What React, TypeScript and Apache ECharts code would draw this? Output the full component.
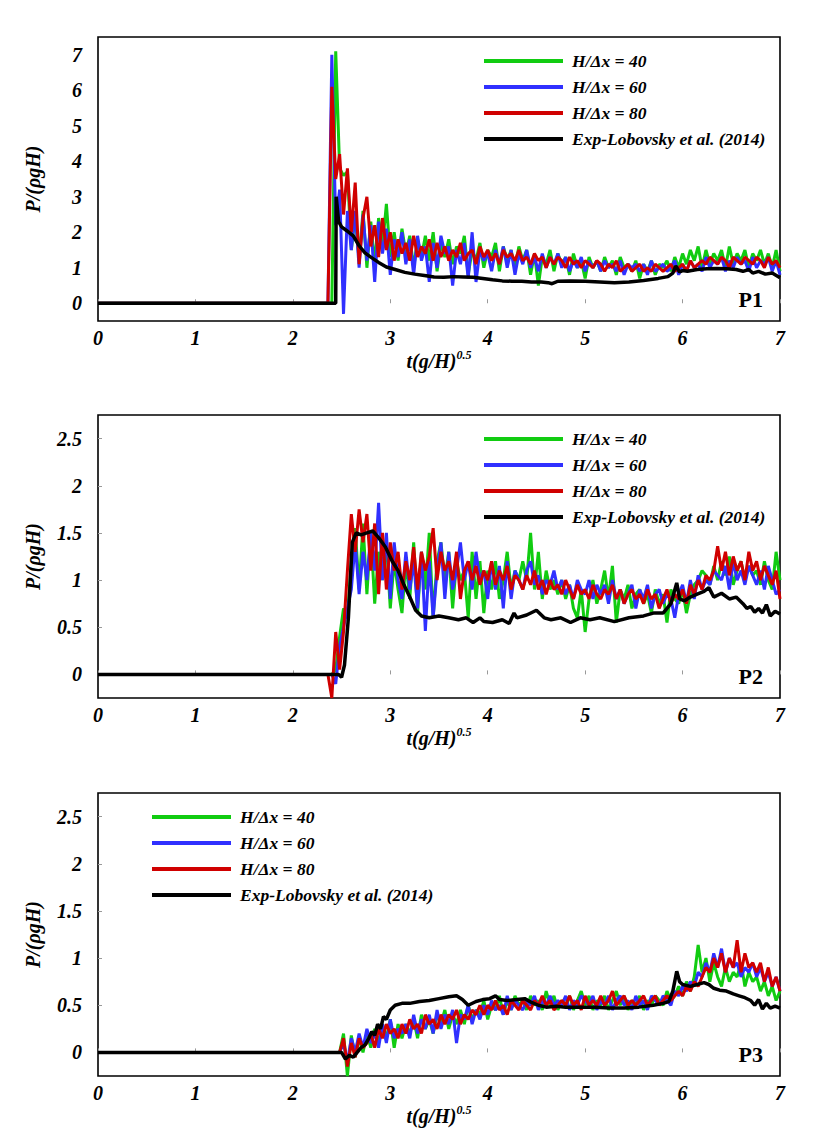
import React, { useEffect, useRef } from "react";
import * as echarts from "echarts";

// ---------- data ----------
const NAMES = ["H/Δx = 40", "H/Δx = 60", "H/Δx = 80", "Exp-Lobovsky et al. (2014)"];
const COLORS = ["#11cc11", "#3030ff", "#d00000", "#000000"];
const X_TICKS = [0, 1, 2, 3, 4, 5, 6, 7];
const Y_TICKS_P1 = [0, 1, 2, 3, 4, 5, 6, 7];
const Y_TICKS_P23 = [0, 0.5, 1, 1.5, 2, 2.5];
const PANEL_LABELS = ["P1", "P2", "P3"];

// simulation time samples
const T = [
  0,
  2.36, 2.40, 2.44, 2.48, 2.52, 2.56, 2.60, 2.64, 2.68, 2.72,
  2.76, 2.80, 2.84, 2.88, 2.92, 2.96, 3.00, 3.04, 3.08, 3.12,
  3.16, 3.20, 3.24, 3.28, 3.32, 3.36, 3.40, 3.44, 3.48, 3.52,
  3.56, 3.60, 3.64, 3.68, 3.72, 3.76, 3.80, 3.84, 3.88, 3.92,
  3.96, 4.00, 4.04, 4.08, 4.12, 4.16, 4.20, 4.24, 4.28, 4.32,
  4.36, 4.40, 4.44, 4.48, 4.52, 4.56, 4.60, 4.64, 4.68, 4.72,
  4.76, 4.80, 4.84, 4.88, 4.92, 4.96, 5.00, 5.04, 5.08, 5.12,
  5.16, 5.20, 5.24, 5.28, 5.32, 5.36, 5.40, 5.44, 5.48, 5.52,
  5.56, 5.60, 5.64, 5.68, 5.72, 5.76, 5.80, 5.84, 5.88, 5.92,
  5.96, 6.00, 6.04, 6.08, 6.12, 6.16, 6.20, 6.24, 6.28, 6.32,
  6.36, 6.40, 6.44, 6.48, 6.52, 6.56, 6.60, 6.64, 6.68, 6.72,
  6.76, 6.80, 6.84, 6.88, 6.92, 6.96, 7.00,
];

// ---- P1 ----
const P1_G40 = [
  0,
  0, 0, 7.1, 3.8, 3.6, 3.7, 1.5, 2.5, 1.2, 2.6,
  1.0, 2.3, 1.1, 2.4, 1.6, 2.8, 1.3, 2.0, 1.2, 2.1,
  1.4, 1.9, 1.0, 1.8, 1.3, 1.9, 1.2, 2.0, 0.9, 1.7,
  1.3, 1.8, 1.1, 1.6, 1.4, 1.9, 0.8, 1.5, 1.2, 1.7,
  1.0, 1.5, 1.3, 1.7, 0.9, 1.6, 1.2, 1.5, 1.0, 1.6,
  1.2, 1.5, 0.8, 1.4, 0.5, 1.3, 1.1, 1.5, 0.9, 1.4,
  1.1, 1.3, 0.8, 1.4, 1.0, 1.2, 0.7, 1.3, 1.0, 1.2,
  0.9, 1.3, 1.0, 1.2, 0.8, 1.3, 1.0, 1.1, 0.9, 1.2,
  0.7, 1.1, 0.9, 1.2, 0.8, 1.1, 1.0, 1.2, 0.9, 1.3,
  1.0, 1.4, 1.1, 1.5, 1.2, 1.6, 1.0, 1.5, 1.1, 1.4,
  1.2, 1.5, 1.0, 1.6, 1.1, 1.4, 1.2, 1.5, 1.0, 1.4,
  1.2, 1.5, 1.1, 1.4, 1.0, 1.5, 0.9,
];
const P1_B60 = [
  0,
  0, 7.0, 2.2, 3.2, -0.3, 2.6, 1.5, 2.6, 1.0, 2.5,
  1.2, 2.2, 0.6, 2.3, 1.4, 2.1, 0.8, 1.8, 1.3, 2.0,
  1.1, 1.8, 0.8, 1.9, 1.2, 1.6, 0.6, 1.7, 1.0, 1.9,
  1.4, 1.6, 0.5, 1.5, 1.1, 1.7, 0.7, 2.0, 0.6, 1.5,
  1.2, 1.4, 0.9, 1.5, 1.1, 1.6, 1.0, 1.5, 0.8, 1.4,
  1.1, 1.5, 1.0, 1.3, 0.9, 1.4, 1.0, 1.3, 1.1, 1.4,
  1.0, 1.3, 0.9, 1.2, 1.0, 1.3, 0.9, 1.2, 1.0, 1.2,
  0.9, 1.2, 1.0, 1.1, 0.9, 1.2, 0.8, 1.1, 1.0, 1.1,
  0.9, 1.1, 0.8, 1.2, 0.9, 1.0, 1.1, 0.9, 1.0, 1.2,
  0.8, 1.1, 0.9, 1.2, 1.0, 1.1, 0.9, 1.3, 1.0, 1.2,
  1.1, 1.3, 0.9, 1.2, 1.0, 1.3, 1.1, 1.2, 0.9, 1.3,
  1.0, 1.2, 1.1, 1.3, 0.9, 1.2, 0.8,
];
const P1_R80 = [
  0,
  0, 6.1, 3.5, 4.2, 2.5, 3.8, 2.0, 3.4, 1.1, 2.4,
  3.0, 1.6, 2.2, 1.3, 2.4, 1.5, 2.0, 1.2, 1.8, 1.4,
  1.7, 1.2, 1.9, 1.3, 1.6, 1.4, 1.8, 1.2, 1.7, 1.3,
  1.6, 1.2, 1.5, 1.3, 1.7, 1.2, 1.4, 1.5, 1.1, 1.6,
  1.3, 1.5, 1.2, 1.4, 1.1, 1.5, 1.3, 1.4, 1.2, 1.5,
  1.2, 1.3, 1.1, 1.4, 1.2, 1.3, 1.0, 1.3, 1.1, 1.3,
  1.2, 1.0, 1.3, 1.1, 1.2, 1.0, 1.2, 1.1, 1.0, 1.2,
  1.1, 0.9, 1.1, 1.0, 1.2, 0.9, 1.0, 1.1, 0.9, 1.0,
  1.1, 0.9, 1.0, 0.9, 1.1, 1.0, 0.9, 1.0, 1.1, 0.9,
  1.0, 1.1, 0.9, 1.2, 1.0, 1.1, 1.2, 1.1, 1.3, 1.2,
  1.1, 1.3, 1.2, 1.0, 1.3, 1.2, 1.1, 1.3, 1.2, 1.1,
  1.3, 1.2, 1.0, 1.3, 1.1, 1.2, 1.0,
];
const P1_EXP_T = [
  0, 2.44, 2.445, 2.47, 2.50, 2.55, 2.62, 2.68, 2.74, 2.80,
  2.88, 2.96, 3.05, 3.15, 3.25, 3.35, 3.45, 3.55, 3.65, 3.75,
  3.85, 3.95, 4.05, 4.15, 4.25, 4.35, 4.45, 4.55, 4.62, 4.66,
  4.72, 4.85, 5.00, 5.15, 5.30, 5.45, 5.60, 5.75, 5.85, 5.90,
  5.93, 5.97, 6.00, 6.05, 6.15, 6.25, 6.35, 6.45, 6.55, 6.62,
  6.68, 6.72, 6.78, 6.85, 6.92, 7.00,
];
const P1_EXP_V = [
  0, 0, 3.0, 2.3, 2.15, 2.05, 1.9, 1.62, 1.42, 1.3,
  1.15, 1.02, 0.95, 0.87, 0.82, 0.78, 0.74, 0.73, 0.75, 0.74,
  0.73, 0.7, 0.66, 0.63, 0.62, 0.62, 0.6, 0.6, 0.58, 0.55,
  0.62, 0.63, 0.62, 0.6, 0.58, 0.6, 0.64, 0.7, 0.75, 0.85,
  1.05, 0.88, 0.92, 0.9, 0.95, 0.97, 0.98, 0.97, 0.95, 0.9,
  0.95, 0.85, 0.9, 0.82, 0.85, 0.72,
];

// ---- P2 ----
const P2_G40 = [
  0,
  0, 0, 0.05, 0.4, 0.7, 0.6, 1.2, 1.55, 0.9, 1.6,
  0.85, 1.5, 0.75, 1.3, 1.0, 1.4, 0.7, 1.2, 0.9, 0.65,
  1.2, 0.8, 1.4, 0.65, 1.3, 0.9, 1.5, 0.6, 1.2, 1.4,
  1.0, 1.3, 0.7, 1.2, 1.0, 1.1, 0.6, 1.3, 0.8, 1.2,
  0.65, 1.1, 0.9, 1.2, 0.8, 1.0, 1.3, 0.9, 1.1, 1.0,
  1.2, 1.0, 1.5, 0.9, 1.3, 0.8, 1.1, 0.9, 1.0, 0.85,
  1.0, 0.8, 0.95, 0.7, 0.6, 0.9, 0.45, 0.8, 1.0, 0.75,
  0.9, 1.1, 0.8, 1.15, 0.55, 0.9, 0.8, 0.95, 0.7, 0.85,
  0.9, 0.75, 0.85, 0.65, 0.9, 0.75, 0.85, 0.55, 0.9, 0.8,
  0.75, 0.9, 0.65, 0.85, 0.95, 1.0, 1.1, 1.05, 0.95, 1.15,
  1.0, 1.2, 1.05, 1.25, 0.95, 1.1, 1.2, 1.0, 1.15, 1.05,
  1.1, 0.95, 1.2, 1.0, 0.9, 1.3, 1.0,
];
const P2_B60 = [
  0,
  0, 0, -0.1, 0.3, 0.5, 0.7, 0.9, 1.4, 0.85, 1.3,
  1.0, 1.5, 1.1, 1.82, 1.0, 1.5, 0.8, 1.4, 1.0, 0.8,
  1.3, 0.9, 1.2, 0.7, 1.3, 0.46, 1.2, 0.6, 1.1, 1.4,
  0.8, 1.3, 0.9, 1.1, 1.4, 1.0, 1.2, 0.9, 1.3, 1.0,
  1.1, 0.8, 1.2, 0.9, 1.15, 0.7, 1.2, 0.8, 1.1, 1.0,
  0.9, 1.1, 1.2, 0.95, 1.05, 0.85, 1.0, 0.95, 1.1, 0.9,
  1.0, 0.85, 0.95, 0.8, 1.0, 0.9, 0.85, 1.0, 0.8, 0.95,
  0.85, 0.95, 0.75, 1.0, 0.8, 0.9, 0.75, 0.85, 0.95, 0.7,
  0.9, 0.8, 0.95, 0.7, 0.85, 0.9, 0.75, 0.85, 0.8, 0.6,
  0.85, 0.95, 0.75, 1.0, 0.8, 1.05, 0.9, 1.0, 0.95, 1.1,
  1.05, 1.0, 1.15, 0.9, 1.2, 1.0, 1.1, 0.95, 1.15, 1.05,
  0.95, 1.1, 0.9, 1.15, 1.0, 0.85, 0.9,
];
const P2_R80 = [
  0,
  0, -0.25, 0.45, 0.05, 0.45, 1.1, 1.7, 1.3, 1.75, 1.4,
  1.7, 1.1, 1.6, 0.85, 1.5, 0.9, 1.4, 1.1, 1.3, 0.9,
  1.2, 1.0, 1.35, 0.9, 1.3, 1.1, 1.25, 1.55, 1.0, 1.3,
  1.1, 1.2, 1.0, 1.3, 0.8, 1.1, 1.2, 1.0, 1.15, 0.95,
  1.1, 1.0, 1.2, 0.95, 1.1, 1.0, 1.15, 0.9, 1.05, 1.0,
  0.9, 1.05, 0.95, 1.1, 0.9, 1.0, 0.85, 1.0, 0.9, 0.95,
  0.85, 1.0, 0.9, 0.8, 0.95, 0.85, 0.9, 0.8, 0.95, 0.85,
  0.8, 0.9, 0.85, 0.95, 0.8, 0.9, 0.75, 0.85, 0.9, 0.8,
  0.85, 0.75, 0.9, 0.8, 0.85, 0.7, 0.8, 0.9, 0.75, 0.85,
  0.8, 0.9, 0.75, 0.95, 0.85, 1.0, 0.9, 1.05, 1.0, 1.1,
  1.36, 1.1, 1.3, 1.05, 1.25, 1.1, 1.2, 1.0, 1.3, 1.1,
  1.2, 1.0, 1.15, 1.05, 0.95, 1.1, 0.8,
];
const P2_EXP_T = [
  0, 2.47, 2.50, 2.53, 2.57, 2.61, 2.65, 2.70, 2.76, 2.82,
  2.88, 2.95, 3.02, 3.08, 3.14, 3.20, 3.26, 3.32, 3.40, 3.50,
  3.60, 3.70, 3.78, 3.85, 3.92, 3.96, 4.05, 4.15, 4.22, 4.27,
  4.30, 4.40, 4.50, 4.58, 4.65, 4.75, 4.85, 4.95, 5.05, 5.15,
  5.30, 5.45, 5.60, 5.70, 5.80, 5.88, 5.94, 5.97, 6.02, 6.08,
  6.15, 6.22, 6.27, 6.32, 6.40, 6.48, 6.55, 6.62, 6.66, 6.70,
  6.74, 6.78, 6.82, 6.86, 6.90, 6.95, 7.00,
];
const P2_EXP_V = [
  0, 0, -0.03, 0.1, 0.6, 1.4, 1.5, 1.48, 1.5, 1.52,
  1.45, 1.35, 1.2, 1.1, 0.95, 0.82, 0.68, 0.62, 0.6, 0.62,
  0.6, 0.58, 0.6, 0.55, 0.6, 0.56, 0.55, 0.58, 0.54, 0.65,
  0.6, 0.63, 0.68, 0.6, 0.58, 0.6, 0.55, 0.6, 0.58, 0.6,
  0.56, 0.6, 0.62, 0.65, 0.65, 0.75, 0.97, 0.8, 0.78, 0.82,
  0.85, 0.88, 0.92, 0.82, 0.86, 0.8, 0.82, 0.75, 0.7, 0.72,
  0.66, 0.7, 0.65, 0.74, 0.62, 0.67, 0.64,
];

// ---- P3 ----
const P3_G40 = [
  0,
  0, 0, 0, 0, 0.2, -0.25, 0.18, -0.05, 0.15, 0.0,
  0.2, 0.05, 0.25, 0.1, 0.3, 0.15, 0.35, 0.05, 0.3, 0.15,
  0.3, 0.2, 0.35, 0.15, 0.4, 0.25, 0.35, 0.2, 0.4, 0.3,
  0.45, 0.25, 0.4, 0.3, 0.45, 0.3, 0.5, 0.35, 0.45, 0.4,
  0.55, 0.35, 0.5, 0.45, 0.6, 0.4, 0.55, 0.45, 0.6, 0.5,
  0.55, 0.45, 0.6, 0.5, 0.55, 0.45, 0.65, 0.5, 0.6, 0.45,
  0.55, 0.5, 0.6, 0.45, 0.55, 0.65, 0.5, 0.6, 0.45, 0.55,
  0.5, 0.6, 0.45, 0.55, 0.65, 0.5, 0.6, 0.45, 0.55, 0.5,
  0.6, 0.45, 0.55, 0.5, 0.6, 0.55, 0.5, 0.65, 0.55, 0.6,
  0.7, 0.6, 0.75, 0.65, 0.8, 1.14, 0.85, 1.0, 0.75, 0.95,
  0.8, 0.7, 0.9, 0.75, 0.85, 0.8, 0.95, 0.7, 0.85, 0.75,
  0.8, 0.65, 0.75, 0.6, 0.7, 0.55, 0.65,
];
const P3_B60 = [
  0,
  0, 0, 0, 0, 0.1, -0.1, 0.15, 0.0, 0.2, 0.05,
  0.25, 0.1, 0.2, 0.05, 0.3, 0.1, 0.35, 0.15, 0.25, 0.2,
  0.3, 0.15, 0.4, 0.2, 0.35, 0.25, 0.4, 0.2, 0.45, 0.25,
  0.4, 0.3, 0.45, 0.1, 0.4, 0.35, 0.5, 0.3, 0.45, 0.35,
  0.5, 0.4, 0.55, 0.45, 0.5, 0.4, 0.6, 0.45, 0.55, 0.5,
  0.45, 0.55, 0.5, 0.6, 0.45, 0.55, 0.5, 0.6, 0.5, 0.55,
  0.5, 0.6, 0.45, 0.55, 0.5, 0.6, 0.55, 0.5, 0.6, 0.45,
  0.55, 0.5, 0.6, 0.45, 0.55, 0.6, 0.5, 0.55, 0.45, 0.6,
  0.5, 0.55, 0.45, 0.6, 0.55, 0.5, 0.6, 0.55, 0.5, 0.65,
  0.6, 0.7, 0.65, 0.75, 0.7, 0.85, 0.8, 0.95, 0.85, 1.05,
  0.9, 1.1, 0.85, 1.0, 0.9, 0.95, 0.8, 0.9, 0.85, 0.95,
  0.8, 0.9, 0.75, 0.85, 0.7, 0.8, 0.65,
];
const P3_R80 = [
  0,
  0, 0, 0, 0, 0.15, -0.15, 0.1, -0.05, 0.15, 0.05,
  0.1, 0.2, 0.05, 0.25, 0.15, 0.3, 0.2, 0.25, 0.15, 0.3,
  0.2, 0.35, 0.25, 0.3, 0.2, 0.4, 0.3, 0.35, 0.25, 0.4,
  0.3, 0.4, 0.35, 0.45, 0.3, 0.4, 0.35, 0.45, 0.4, 0.5,
  0.4, 0.5, 0.45, 0.55, 0.45, 0.5, 0.4, 0.55, 0.5, 0.45,
  0.55, 0.5, 0.45, 0.55, 0.5, 0.6, 0.5, 0.55, 0.45, 0.5,
  0.55, 0.5, 0.6, 0.5, 0.55, 0.45, 0.6, 0.5, 0.55, 0.5,
  0.6, 0.5, 0.55, 0.65, 0.5, 0.55, 0.6, 0.5, 0.55, 0.5,
  0.55, 0.6, 0.5, 0.55, 0.6, 0.5, 0.55, 0.6, 0.55, 0.6,
  0.65, 0.6, 0.7, 0.65, 0.75, 0.7, 0.8, 0.9, 0.85, 1.0,
  0.9, 1.05, 0.85, 1.0, 0.9, 1.19, 0.85, 1.05, 0.9, 0.95,
  0.85, 0.95, 0.75, 0.9, 0.7, 0.8, 0.65,
];
const P3_EXP_T = [
  0, 2.50, 2.54, 2.58, 2.62, 2.66, 2.70, 2.74, 2.78, 2.81,
  2.84, 2.87, 2.90, 2.93, 2.96, 3.00, 3.05, 3.12, 3.20, 3.30,
  3.40, 3.50, 3.60, 3.68, 3.74, 3.80, 3.88, 3.95, 4.02, 4.08,
  4.12, 4.20, 4.30, 4.38, 4.45, 4.52, 4.60, 4.70, 4.80, 4.95,
  5.10, 5.25, 5.40, 5.55, 5.70, 5.80, 5.86, 5.90, 5.94, 5.97,
  6.00, 6.08, 6.15, 6.22, 6.27, 6.32, 6.38, 6.45, 6.52, 6.58,
  6.64, 6.70, 6.74, 6.78, 6.82, 6.86, 6.90, 6.95, 7.00,
];
const P3_EXP_V = [
  0, 0, -0.07, -0.03, -0.05, 0.0, 0.05, 0.08, 0.15, 0.22,
  0.18, 0.3, 0.25, 0.38, 0.35, 0.45, 0.5, 0.52, 0.52, 0.54,
  0.55, 0.57, 0.59, 0.6, 0.56, 0.5, 0.54, 0.56, 0.57, 0.6,
  0.56, 0.55, 0.56, 0.57, 0.53, 0.5, 0.48, 0.49, 0.48, 0.48,
  0.48, 0.47, 0.47, 0.48, 0.5, 0.52, 0.54, 0.65, 0.86, 0.75,
  0.72, 0.7, 0.72, 0.74, 0.72, 0.68, 0.66, 0.65, 0.62, 0.6,
  0.58, 0.55, 0.5, 0.56, 0.46, 0.52, 0.47, 0.49, 0.47,
];

// ---------- chart ----------
const FONT = "Liberation Serif";

function pair(t: number[], v: number[]) {
  const n = Math.min(t.length, v.length);
  const out: number[][] = [];
  for (let i = 0; i < n; i++) out.push([t[i], v[i]]);
  return out;
}

const PANELS = [
  {
    top: 37, height: 284, yMin: -0.5, yMax: 7.5, yStep: 0.5, yTicks: Y_TICKS_P1, yTickShow: false,
    sims: [P1_G40, P1_B60, P1_R80], expT: P1_EXP_T, expV: P1_EXP_V,
    legendLeft: 479, legendTop: 47,
  },
  {
    top: 415, height: 283, yMin: -0.25, yMax: 2.75, yStep: 0.25, yTicks: Y_TICKS_P23, yTickShow: true,
    sims: [P2_G40, P2_B60, P2_R80], expT: P2_EXP_T, expV: P2_EXP_V,
    legendLeft: 479, legendTop: 425,
  },
  {
    top: 793, height: 283, yMin: -0.25, yMax: 2.75, yStep: 0.25, yTicks: Y_TICKS_P23, yTickShow: true,
    sims: [P3_G40, P3_B60, P3_R80], expT: P3_EXP_T, expV: P3_EXP_V,
    legendLeft: 147, legendTop: 803,
  },
];

const LEFT = 98;
const WIDTH = 682;

function buildOption() {
  const grid: any[] = [];
  const xAxis: any[] = [];
  const yAxis: any[] = [];
  const series: any[] = [];
  const legend: any[] = [];
  const graphic: any[] = [];

  PANELS.forEach((p, k) => {
    grid.push({
      left: LEFT, top: p.top, width: WIDTH, height: p.height,
      show: true, borderColor: "#000", borderWidth: 1.6, backgroundColor: "transparent",
    });
    xAxis.push({
      type: "value", gridIndex: k, min: 0, max: 7, interval: 1,
      axisLine: { show: false },
      axisTick: { show: true, inside: true, length: 4, lineStyle: { color: "#999", width: 1 }, customValues: X_TICKS },
      axisLabel: {
        customValues: X_TICKS, margin: 7,
        fontFamily: FONT, fontWeight: "bold", fontStyle: "italic", fontSize: 20, color: "#000",
      },
      splitLine: { show: false },
      name: "{a|t(g/H)}{b|0.5}",
      nameLocation: "middle",
      nameGap: 28,
      nameTextStyle: {
        rich: {
          a: { fontFamily: FONT, fontWeight: "bold", fontStyle: "italic", fontSize: 20, color: "#000", lineHeight: 24 },
          b: { fontFamily: FONT, fontWeight: "bold", fontStyle: "italic", fontSize: 12, color: "#000", lineHeight: 24, verticalAlign: "top" },
        },
      },
    });
    yAxis.push({
      type: "value", gridIndex: k, min: p.yMin, max: p.yMax, interval: p.yStep,
      axisLine: { show: false },
      axisTick: { show: p.yTickShow, inside: true, length: 4, lineStyle: { color: "#999", width: 1 }, customValues: p.yTicks },
      axisLabel: {
        customValues: p.yTicks, margin: 16,
        formatter: (v: number) => (p.yTicks.indexOf(v) >= 0 ? String(v) : ""),
        fontFamily: FONT, fontWeight: "bold", fontStyle: "italic", fontSize: 20, color: "#000",
      },
      splitLine: { show: false },
      name: "P/(ρgH)",
      nameLocation: "middle",
      nameGap: 55,
      nameTextStyle: { fontFamily: FONT, fontWeight: "bold", fontStyle: "italic", fontSize: 20, color: "#000" },
    });
    p.sims.forEach((vals, j) => {
      series.push({
        type: "line", name: NAMES[j], xAxisIndex: k, yAxisIndex: k,
        data: pair(T, vals), showSymbol: false, symbol: "none",
        lineStyle: { color: COLORS[j], width: 3 }, itemStyle: { color: COLORS[j] },
        z: 2 + j,
      });
    });
    series.push({
      type: "line", name: NAMES[3], xAxisIndex: k, yAxisIndex: k,
      data: pair(p.expT, p.expV), showSymbol: false, symbol: "none",
      lineStyle: { color: COLORS[3], width: 3.5 }, itemStyle: { color: COLORS[3] },
      z: 6,
    });
    legend.push({
      show: true, orient: "vertical", left: p.legendLeft, top: p.legendTop,
      data: NAMES, icon: "rect", itemWidth: 79, itemHeight: 4, itemGap: 8, selectedMode: false,
      textStyle: {
        fontFamily: FONT, fontWeight: "bold", fontStyle: "italic", fontSize: 17.5, color: "#000",
        lineHeight: 18, padding: [0, 0, 0, 4],
      },
    });
    graphic.push({
      type: "text", x: LEFT + WIDTH - 17, y: p.top + p.height - 11,
      style: {
        text: PANEL_LABELS[k], fill: "#000",
        fontFamily: FONT, fontWeight: "bold", fontSize: 22,
        textAlign: "right", textVerticalAlign: "bottom",
      },
    });
  });

  return {
    animation: false,
    backgroundColor: "#fff",
    grid, xAxis, yAxis, series, legend, graphic,
  };
}

export default function App() {
  const ref = useRef<HTMLDivElement>(null);
  useEffect(() => {
    if (!ref.current) return;
    const chart = echarts.init(ref.current, undefined, { renderer: "svg" });
    chart.setOption(buildOption() as any);
    return () => chart.dispose();
  }, []);
  return (
    <div
      ref={ref}
      style={{ position: "absolute", left: 0, top: 0, width: 830, height: 1133, background: "#fff" }}
    />
  );
}
